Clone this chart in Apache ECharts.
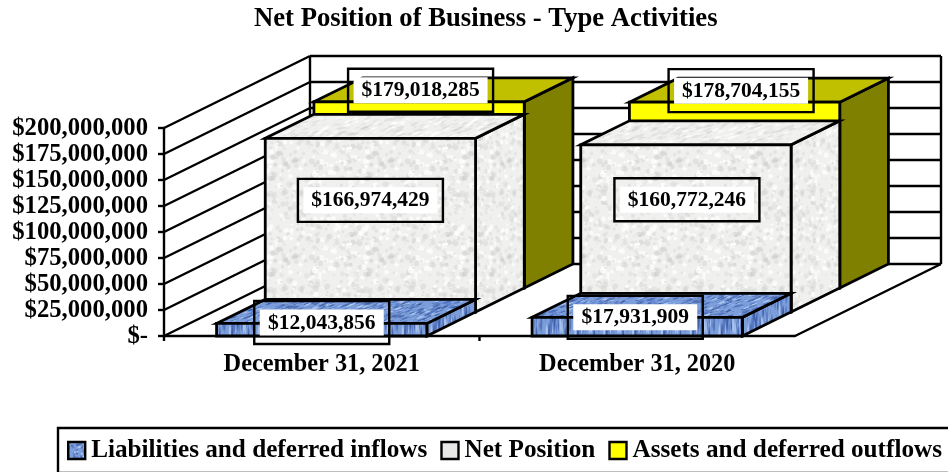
<!DOCTYPE html>
<html><head><meta charset="utf-8">
<style>html,body{margin:0;padding:0;background:#fff}#c{width:948px;height:472px}</style>
<script src="https://cdn.jsdelivr.net/npm/echarts@6/dist/echarts.min.js"></script>
</head><body><div id="c"></div>
<script>
const categories = ['December 31, 2021', 'December 31, 2020'];
const liabilities = [12043856, 17931909];
const netPosition = [166974429, 160772246];
const assets = [179018285, 178704155];
const yTicks = [0, 25000000, 50000000, 75000000, 100000000, 125000000, 150000000, 175000000, 200000000];
const yTickLabels = ['$-', '$25,000,000', '$50,000,000', '$75,000,000', '$100,000,000', '$125,000,000', '$150,000,000', '$175,000,000', '$200,000,000'];
const seriesNames = ['Liabilities and deferred inflows', 'Net Position', 'Assets and deferred outflows'];

const FONT = '"Liberation Serif","Times New Roman",serif';
const DEPTH_X = 146, DEPTH_Y = 72, ROWS = 3;
const BAR_RATIO = 2 / 3;
const LABEL_OFFSET = [[[0, -1], [-2, 0]], [[0, 62], [1, 55]], [[1.5, -11.5], [6.5, -11.5]]];

// Deterministic speckle, decoration only (fill texture, not data)
function tile(size, base, spots, count, rMax, seed) {
  const c = document.createElement('canvas');
  c.width = c.height = size;
  const g = c.getContext('2d');
  g.fillStyle = base; g.fillRect(0, 0, size, size);
  let s = seed;
  const next = () => (s = (s * 1103515245 + 12345) & 0x7fffffff) / 0x7fffffff;
  for (let i = 0; i < count; i++) {
    const x = next() * size, y = next() * size, r = 0.6 + next() * rMax;
    g.fillStyle = spots[Math.floor(next() * spots.length)];
    for (const dx of [-size, 0, size]) for (const dy of [-size, 0, size]) {
      g.beginPath(); g.arc(x + dx, y + dy, r, 0, 7); g.fill();
    }
  }
  return c;
}
const granite = tile(96, '#f0f0ee', ['rgba(214,214,212,0.45)', 'rgba(255,255,255,0.7)', 'rgba(196,196,194,0.3)'], 420, 2.4, 7);
const water = tile(64, '#7c9edb', ['rgba(36,66,140,0.45)', 'rgba(200,220,250,0.6)', 'rgba(80,115,195,0.7)', 'rgba(24,48,112,0.3)'], 260, 2.2, 11);
const pat = (image, o) => Object.assign({ image, repeat: 'repeat' }, o || {});
const faces = [
  { front: pat(water, { scaleX: 0.45, scaleY: 3 }), top: pat(water, { rotation: -0.35, scaleX: 1.5, scaleY: 0.35 }), side: pat(water, { scaleX: 0.45, scaleY: 3 }) },
  { front: pat(granite), top: pat(granite, { rotation: -0.35, scaleX: 1.5, scaleY: 0.45 }), side: pat(granite, { scaleX: 0.75 }) },
  { front: '#ffff00', top: '#c0c000', side: '#808000' }
];
const legendFill = [pat(water, { scaleX: 0.5, scaleY: 0.5 }), '#e8e8e6', '#ffff00'];

const fmt = v => '$' + v.toLocaleString('en-US');

function barRenderer(row) {
  return function (params, api) {
    const cat = api.value(0), val = api.value(1);
    const c = api.coord([cat, val]), b = api.coord([cat, 0]);
    const w = api.size([1, 0])[0] * BAR_RATIO;
    const dxU = DEPTH_X / ROWS, dyU = DEPTH_Y / ROWS;
    const ox = dxU * row, oy = dyU * row;
    const xl = c[0] - w / 2 + ox, xr = c[0] + w / 2 + ox;
    const yt = c[1] - oy, yb = b[1] - oy;
    const f = faces[row];
    const st = (fill) => ({ fill, stroke: '#000', lineWidth: 2.8, lineJoin: 'miter' });
    const poly = (points, fill) => ({ type: 'polygon', shape: { points }, style: st(fill) });
    const off = LABEL_OFFSET[row][cat];
    const lx = c[0] + ox + off[0], ly = c[1] - oy + off[1];
    const text = fmt(val);
    const tw = text.length === 12 ? 134 : 124;
    return {
      type: 'group',
      children: [
        poly([[xr, yb], [xr + dxU, yb - dyU], [xr + dxU, yt - dyU], [xr, yt]], f.side),
        poly([[xl, yt], [xl + dxU, yt - dyU], [xr + dxU, yt - dyU], [xr, yt]], f.top),
        poly([[xl, yt], [xr, yt], [xr, yb], [xl, yb]], f.front),
        { type: 'rect', shape: { x: lx - tw / 2 - 5.5, y: ly - 21.5, width: tw + 11, height: 43 }, style: { fill: 'none', stroke: '#000', lineWidth: 2.4 } },
        { type: 'rect', shape: { x: lx - tw / 2, y: ly - 13, width: tw, height: 26 }, style: { fill: '#fff' } },
        { type: 'text', x: lx, y: ly + 0.5, style: { text, fill: '#000', font: 'bold 21.5px ' + FONT, align: 'center', verticalAlign: 'middle' } }
      ]
    };
  };
}

function wallRenderer(params, api) {
  const v = api.value(1);
  const p = api.coord([0, v]);
  const halfCat = api.size([1, 0])[0] / 2;
  const x0 = p[0] - halfCat, x1 = x0 + halfCat * 4, y = p[1];
  const ln = (a, b, c, d, w) => ({ type: 'line', shape: { x1: a, y1: b, x2: c, y2: d }, style: { stroke: '#000', lineWidth: w || 2.4 } });
  const ch = [
    ln(x0, y, x0 + DEPTH_X, y - DEPTH_Y),
    ln(x0 + DEPTH_X, y - DEPTH_Y, x1 + DEPTH_X, y - DEPTH_Y)
  ];
  if (v === 0) {
    const top = api.coord([0, yTicks[yTicks.length - 1]])[1];
    ch.push(ln(x0 + DEPTH_X, y - DEPTH_Y, x0 + DEPTH_X, top - DEPTH_Y));
    ch.push(ln(x1 + DEPTH_X, y - DEPTH_Y, x1 + DEPTH_X, top - DEPTH_Y));
    ch.push(ln(x1, y, x1 + DEPTH_X, y - DEPTH_Y));
    ch.push(ln(x0, y, x0, y + 5));
    ch.push(ln(x0 + halfCat * 2, y, x0 + halfCat * 2, y + 5));
  }
  return { type: 'group', children: ch };
}

const barSeries = (row, values) => ({
  type: 'custom', name: seriesNames[row], z: 5 - row,
  coordinateSystem: 'cartesian2d',
  renderItem: barRenderer(row),
  encode: { x: 0, y: 1 },
  itemStyle: { color: typeof legendFill[row] === 'string' ? legendFill[row] : '#7c9edb' },
  data: values.map((v, i) => [i, v]),
  silent: true
});

const chart = echarts.init(document.getElementById('c'), null, { renderer: 'canvas' });
chart.setOption({
  animation: false,
  backgroundColor: '#fff',
  textStyle: { fontFamily: FONT },
  title: {
    text: 'Net Position of Business - Type Activities',
    left: 254, top: 6, padding: 0,
    textStyle: { fontFamily: FONT, fontWeight: 'bold', fontSize: 26.7, color: '#000' }
  },
  legend: {
    show: true, orient: 'horizontal', left: 58, top: 428, width: 1000,
    padding: [10, 60, 10, 9],
    itemWidth: 17, itemHeight: 17, itemGap: 13,
    borderColor: '#000', borderWidth: 2.4, backgroundColor: '#fff',
    selectedMode: false,
    textStyle: { fontFamily: FONT, fontWeight: 'bold', fontSize: 25.2, color: '#000', padding: [0, 0, 0, 1] },
    data: seriesNames.map((name, i) => ({
      name, icon: 'rect',
      itemStyle: { color: legendFill[i], borderColor: '#000', borderWidth: 2.4 }
    }))
  },
  grid: { left: 164, right: 153, top: 128, bottom: 136, containLabel: false },
  xAxis: {
    type: 'category', data: categories,
    axisLine: { lineStyle: { color: '#000', width: 2.4 } },
    axisTick: { show: false },
    axisLabel: { color: '#000', fontFamily: FONT, fontWeight: 'bold', fontSize: 24.3, margin: 17 }
  },
  yAxis: {
    type: 'value', min: 0, max: 200000000, interval: 25000000,
    axisLine: { show: true, lineStyle: { color: '#000', width: 2.4 } },
    axisTick: { show: true, length: 6, lineStyle: { color: '#000', width: 2.4 } },
    splitLine: { show: false },
    axisLabel: {
      color: '#000', fontFamily: FONT, fontWeight: 'bold', fontSize: 24.7, margin: 16,
      formatter: v => '{t|' + yTickLabels[yTicks.indexOf(v)] + '}',
      rich: { t: { fontFamily: FONT, fontWeight: 'bold', fontSize: 24.7, color: '#000', padding: [2, 0, 0, 0] } }
    }
  },
  series: [
    barSeries(0, liabilities),
    barSeries(1, netPosition),
    barSeries(2, assets),
    {
      type: 'custom', name: 'walls', z: 1, silent: true,
      coordinateSystem: 'cartesian2d',
      renderItem: wallRenderer, encode: { x: 0, y: 1 },
      data: yTicks.map(v => [0, v])
    }
  ]
});
</script></body></html>
